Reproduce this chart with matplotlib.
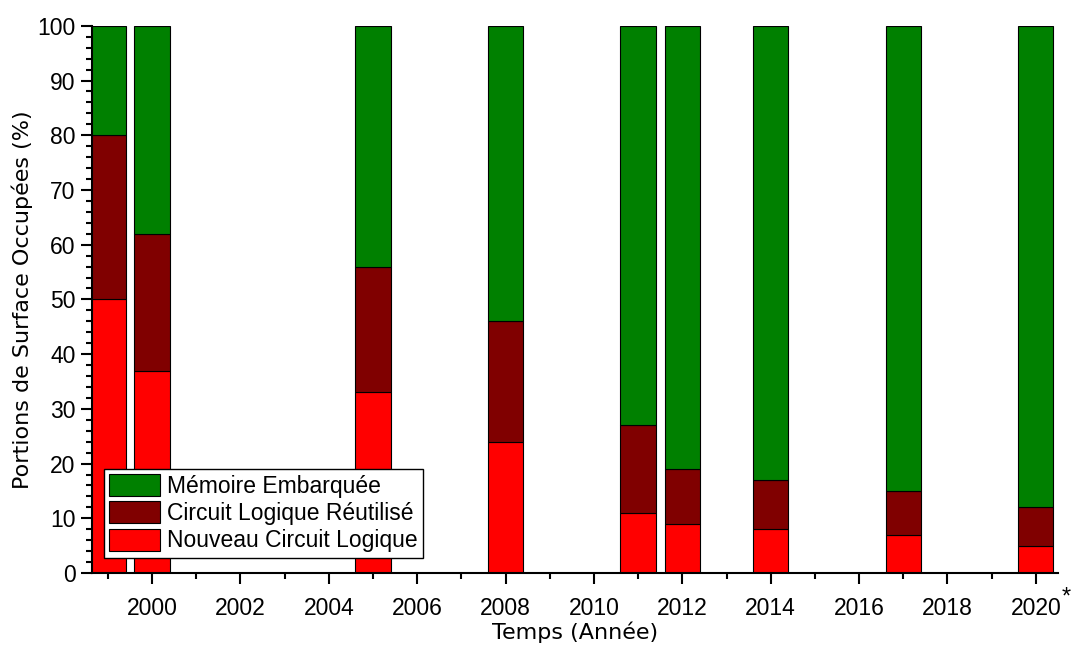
import matplotlib.pyplot as plt
import numpy as np
from matplotlib.ticker import MultipleLocator

plt.rcParams['font.family'] = ['Liberation Sans', 'DejaVu Sans']

years = [1999, 2000, 2005, 2008, 2011, 2012, 2014, 2017, 2020]
nouveau = [50, 37, 33, 24, 11, 9, 8, 7, 5]
reutilise = [30, 25, 23, 22, 16, 10, 9, 8, 7]
memoire = [20, 38, 44, 54, 73, 81, 83, 85, 88]

x = np.array(years)
n = np.array(nouveau)
r = np.array(reutilise)
m = np.array(memoire)

fig = plt.figure(figsize=(10.74, 6.46), dpi=100)
ax = fig.add_axes([0.0857, 0.113, 0.8993, 0.847])

w = 0.8
ax.bar(x, n, w, color='#ff0000', edgecolor='black', linewidth=0.8, label='Nouveau Circuit Logique')
ax.bar(x, r, w, bottom=n, color='#800000', edgecolor='black', linewidth=0.8, label='Circuit Logique Réutilisé')
ax.bar(x, m, w, bottom=n + r, color='#008000', edgecolor='black', linewidth=0.8, label='Mémoire Embarquée')

ax.set_xlim(1998.64, 2020.5)
ax.set_ylim(0, 100)
ax.spines['top'].set_visible(False)
ax.spines['right'].set_visible(False)
ax.spines['left'].set_linewidth(1.5)
ax.spines['bottom'].set_linewidth(1.5)

ax.xaxis.set_major_locator(MultipleLocator(2))
ax.xaxis.set_minor_locator(MultipleLocator(1))
ax.yaxis.set_major_locator(MultipleLocator(10))
ax.yaxis.set_minor_locator(MultipleLocator(2))
ax.tick_params(which='major', length=8, width=1.5, labelsize=16.5)
ax.tick_params(which='minor', length=4, width=1.5)
ax.tick_params(axis='x', pad=9)
ax.tick_params(axis='y', pad=4)

ax.set_xlabel('Temps (Année)', fontsize=16, family='DejaVu Sans', labelpad=1)
ax.set_ylabel('Portions de Surface Occupées (%)', fontsize=16, family='DejaVu Sans', labelpad=3)
ax.text(1.004, -0.025, '*', transform=ax.transAxes, fontsize=17, va='top', ha='left')

h, l = ax.get_legend_handles_labels()
leg = ax.legend(h[::-1], l[::-1], loc='lower left', bbox_to_anchor=(0.012, 0.027),
                fontsize=16.5, fancybox=False, edgecolor='black', framealpha=1,
                handlelength=2.2, handleheight=1.1, handletextpad=0.3,
                labelspacing=0.15, borderpad=0.25, borderaxespad=0)
leg.get_frame().set_linewidth(1)

fig.savefig('out.png')
